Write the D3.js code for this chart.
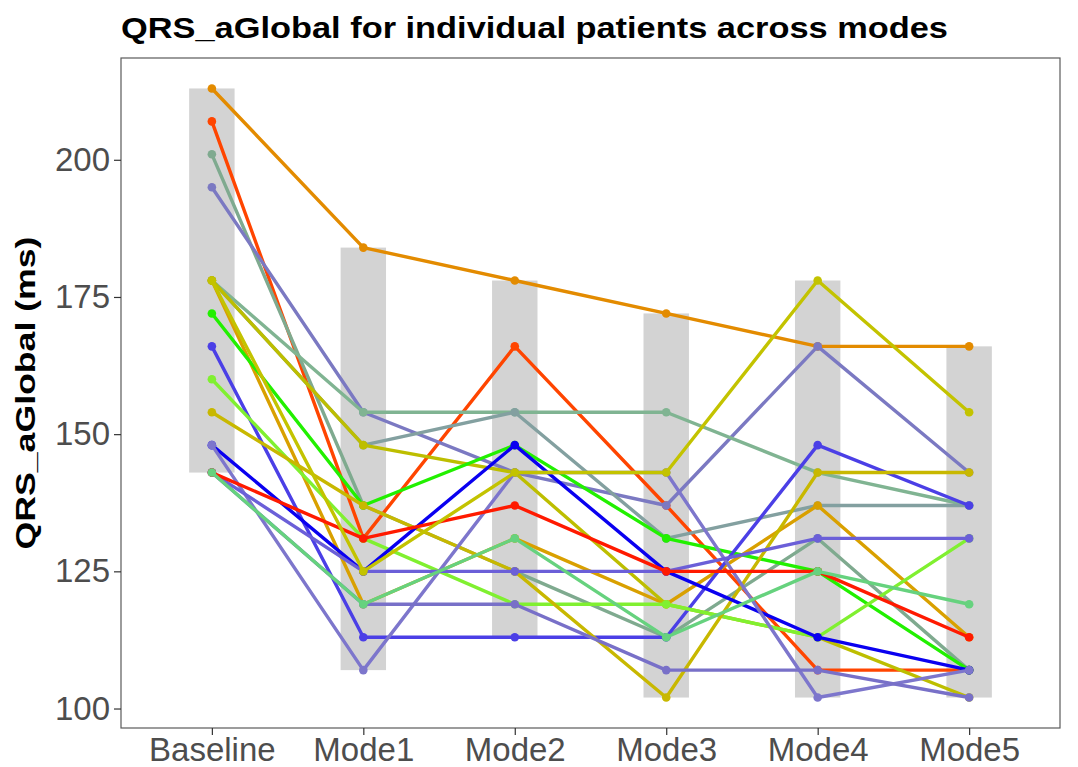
<!DOCTYPE html>
<html>
<head>
<meta charset="utf-8">
<script src="https://cdn.jsdelivr.net/npm/d3@7"></script>
<style>
  body { margin: 0; background: #fff; }
  svg { font-family: "Liberation Sans", Arial, sans-serif; }
</style>
</head>
<body>
<svg id="chart" width="1078" height="767"></svg>
<script>
// modes on the x axis
const modes = ["Baseline", "Mode1", "Mode2", "Mode3", "Mode4", "Mode5"];

// per patient QRS_aGlobal (ms), one value per mode
const patientIds = ["P01","P02","P03","P04","P05","P06","P07","P08","P09","P10",
                    "P11","P12","P13","P14","P15","P16","P17","P18","P19"];
const patientColors = ["#E38B00","#FF4500","#7FAA8F","#7B79C2","#80B492","#83A0A0",
                       "#D9A000","#BDBE00","#22F000","#4B3FE6","#80F030","#C8B800",
                       "#0A00F0","#7D76CC","#7870C8","#6B5FD8","#FF1A00","#66D27E",
                       "#C3C300"];
const qrsValues = [
  [213, 184, 178, 172, 166, 166],
  [207, 131, 166, 137, 107, 107],
  [201, 137, 125, 113, 131, 107],
  [195, 154, 143, 137, 166, 143],
  [178, 154, 154, 154, 143, 137],
  [178, 148, 154, 131, 137, 137],
  [178, 119, 131, 119, 137, 113],
  [178, 148, 143, 119, 113, 102],
  [172, 137, 148, 131, 125, 107],
  [166, 113, 113, 113, 148, 137],
  [160, 131, 119, 119, 113, 131],
  [154, 137, 125, 102, 143, 143],
  [148, 125, 148, 125, 113, 107],
  [148, 107, 143, 143, 102, 107],
  [143, 119, 119, 107, 107, 102],
  [143, 125, 125, 125, 131, 131],
  [143, 131, 137, 125, 125, 113],
  [143, 119, 131, 113, 125, 119],
  [178, 125, 143, 143, 178, 154]
];
const yTicks = [100, 125, 150, 175, 200];

const margin = { top: 58, right: 18, bottom: 39, left: 121 };
const width = 1078 - margin.left - margin.right;
const height = 767 - margin.top - margin.bottom;

const svg = d3.select("#chart");

svg.append("text")
    .attr("x", margin.left)
    .attr("y", 38)
    .attr("font-size", 30)
    .attr("font-weight", "bold")
    .attr("fill", "#000")
    .attr("textLength", 827)
    .attr("lengthAdjust", "spacingAndGlyphs")
    .text("QRS_aGlobal for individual patients across modes");

const g = svg.append("g")
    .attr("transform", `translate(${margin.left}, ${margin.top})`);

// ggplot style discrete scale: 0.6 padding each side
const x = d3.scalePoint()
    .domain(modes)
    .range([0, width])
    .padding(0.6);

const y = d3.scaleLinear()
    .domain([96.45, 218.55])
    .range([height, 0]);

// range bars (min to max per mode)
const ranges = modes.map((m, i) => {
    const col = qrsValues.map(v => v[i]);
    return { mode: m, lo: d3.min(col), hi: d3.max(col) };
});
const barW = x.step() * 0.3;

g.selectAll("rect.range")
    .data(ranges)
    .join("rect")
    .attr("class", "range")
    .attr("x", d => x(d.mode) - barW / 2)
    .attr("y", d => y(d.hi))
    .attr("width", barW)
    .attr("height", d => y(d.lo) - y(d.hi))
    .attr("fill", "#D3D3D3");

const patients = patientIds.map((id, i) => ({
    id: id,
    color: patientColors[i],
    values: qrsValues[i].map((v, j) => ({ mode: modes[j], value: v }))
}));

const line = d3.line()
    .x(d => x(d.mode))
    .y(d => y(d.value));

const pg = g.selectAll("g.patient")
    .data(patients)
    .join("g")
    .attr("class", "patient");

pg.append("path")
    .attr("d", d => line(d.values))
    .attr("fill", "none")
    .attr("stroke", d => d.color)
    .attr("stroke-width", 3.4)
    .attr("stroke-linejoin", "round");

pg.selectAll("circle")
    .data(d => d.values.map(v => ({ ...v, color: d.color })))
    .join("circle")
    .attr("cx", d => x(d.mode))
    .attr("cy", d => y(d.value))
    .attr("r", 4.3)
    .attr("fill", d => d.color);

// panel border
g.append("rect")
    .attr("width", width)
    .attr("height", height)
    .attr("fill", "none")
    .attr("stroke", "#5a5a5a")
    .attr("stroke-width", 1.2);

// axes
const yAxis = g.append("g")
    .call(d3.axisLeft(y).tickValues(yTicks).tickSize(7).tickPadding(4));
const xAxis = g.append("g")
    .attr("transform", `translate(0, ${height})`)
    .call(d3.axisBottom(x).tickSize(7).tickPadding(3));

[xAxis, yAxis].forEach(a => {
    a.select(".domain").remove();
    a.selectAll(".tick line").attr("stroke", "#333").attr("stroke-width", 1.2);
    a.selectAll(".tick text")
        .attr("fill", "#4D4D4D")
        .attr("font-size", 33)
        .attr("font-family", "Liberation Sans, Arial, sans-serif");
});

svg.append("text")
    .attr("transform", `translate(35, ${margin.top + height / 2}) rotate(-90)`)
    .attr("text-anchor", "middle")
    .attr("font-size", 28)
    .attr("font-weight", "bold")
    .attr("fill", "#000")
    .attr("textLength", 313)
    .attr("lengthAdjust", "spacingAndGlyphs")
    .text("QRS_aGlobal (ms)");
</script>
</body>
</html>
